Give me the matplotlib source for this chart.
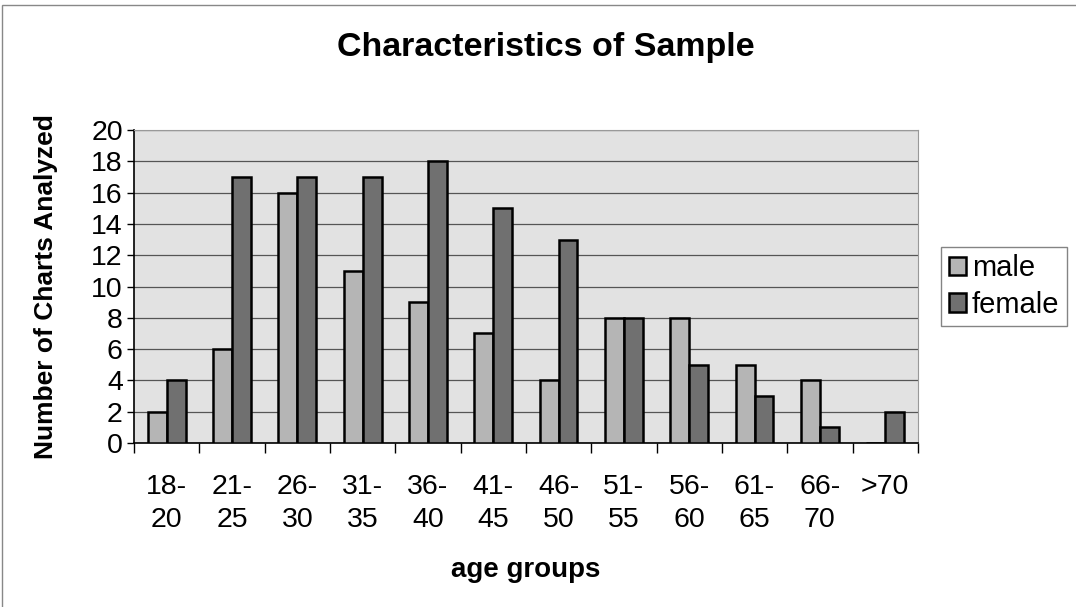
import matplotlib.pyplot as plt
import numpy as np
from matplotlib.patches import Rectangle

plt.rcParams["font.family"] = ["Liberation Sans", "DejaVu Sans"]

age_groups = ["18-\n20", "21-\n25", "26-\n30", "31-\n35", "36-\n40", "41-\n45",
              "46-\n50", "51-\n55", "56-\n60", "61-\n65", "66-\n70", ">70\n"]
male = [2, 6, 16, 11, 9, 7, 4, 8, 8, 5, 4, 0]
female = [4, 17, 17, 17, 18, 15, 13, 8, 5, 3, 1, 2]
yticks = list(range(0, 21, 2))

fig = plt.figure(figsize=(10.76, 6.07), dpi=100)
ax = fig.add_axes([0.1245, 0.270, 0.7285, 0.516])
ax.set_facecolor("#e2e2e2")

x = np.arange(len(age_groups))
w = 0.29
ax.bar(x - w / 2, male, w, color="#b5b5b5", edgecolor="black", linewidth=1.8,
       label="male", zorder=3)
ax.bar(x + w / 2, female, w, color="#707070", edgecolor="black", linewidth=1.8,
       label="female", zorder=3)

ax.set_xlim(-0.5, len(age_groups) - 0.5)
ax.set_ylim(0, 20)
ax.set_yticks(yticks)
ax.yaxis.grid(True, color="#555555", linewidth=0.9, zorder=0)
ax.set_axisbelow(True)

# category labels at centres, tick marks at the boundaries
ax.set_xticks(x)
ax.set_xticklabels(age_groups, fontsize=20.5, linespacing=1.38)
ax.tick_params(axis="x", which="major", length=0, pad=22)
ax.set_xticks(np.arange(-0.5, len(age_groups)), minor=True)
ax.tick_params(axis="x", which="minor", length=7, width=1, direction="out")
ax.tick_params(axis="y", labelsize=20.5, length=5, width=1, pad=3)

for side in ["top", "right"]:
    ax.spines[side].set_color("#999999")
ax.spines["left"].set_linewidth(1.2)
ax.spines["bottom"].set_linewidth(1.2)

ax.set_ylabel("Number of Charts Analyzed", fontsize=19, fontweight="bold", labelpad=24)
ax.set_xlabel("age groups", fontsize=20, fontweight="bold", labelpad=17)
fig.text(0.507, 0.922, "Characteristics of Sample", fontsize=24.5, fontweight="bold",
         ha="center", va="center")

leg = ax.legend(loc="center left", bbox_to_anchor=(1.03, 0.5), fontsize=21,
                frameon=True, fancybox=False, edgecolor="#666666",
                handlelength=0.6, handleheight=0.6, handletextpad=0.2,
                borderpad=0.25, labelspacing=0.3, borderaxespad=0)
leg.get_frame().set_linewidth(1.0)

# chart frame
fig.patches.append(Rectangle((0.002, -0.01), 1.1, 1.002, transform=fig.transFigure,
                             fill=False, edgecolor="#888888", linewidth=1.0))

fig.savefig("out.png", dpi=100)
